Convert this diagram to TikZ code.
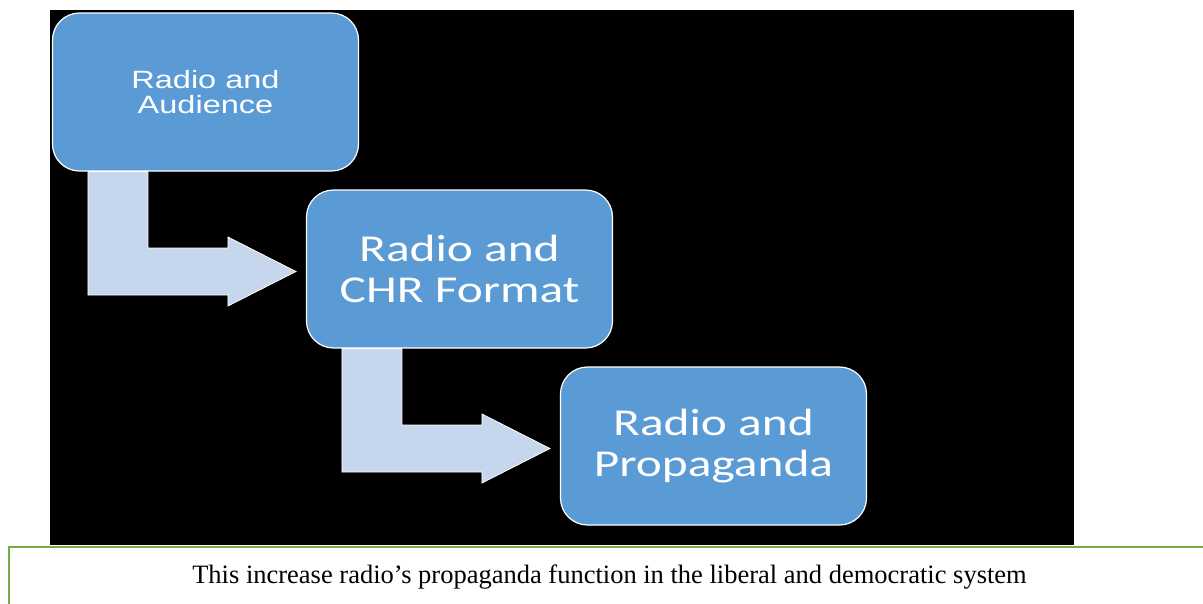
\documentclass[tikz,border=0pt]{standalone}
\usepackage{fontspec}
\setmainfont{Liberation Serif}
\newfontfamily\arialfont{Liberation Sans}
\newfontfamily\calfont{Carlito}
\usepackage{graphicx}
\usepackage{tikz}
\usetikzlibrary{calc}
\usepackage{color}
\definecolor{boxblue}{RGB}{91,155,213}
\definecolor{flowblue}{RGB}{198,214,236}
\definecolor{notegreen}{RGB}{112,173,71}
\newcommand{\wide}[1]{\scalebox{1.3}[1]{#1}}

\begin{document}
\begin{tikzpicture}[x=1pt,y=-1pt,
    stage/.style={draw=white,line width=1.2pt,fill=boxblue,rounded corners=27pt,
        minimum width=306pt,minimum height=158pt,inner sep=0pt,align=center,text=white},
    flow/.style={draw=white,line width=0.8pt,fill=flowblue},
    notebox/.style={draw=notegreen,line width=2pt}]
        \useasboundingbox (0,0) rectangle (1203,603);
        \fill[black] (50,10) rectangle (1074,545);
        \node[stage,font=\arialfont\fontsize{25}{25}\selectfont] (aud) at (205.5,92)
            {\wide{Radio and}\\\wide{Audience}};
        \node[stage,font=\calfont\fontsize{38}{41}\selectfont] (chr) at (459.5,269)
            {\wide{Radio and}\\\wide{CHR Format}};
        \node[stage,font=\calfont\fontsize{38}{41}\selectfont] (prop) at (713.5,446)
            {\wide{Radio and}\\\wide{Propaganda}};
        \foreach \a/\b in {aud/chr,chr/prop}
            \draw[flow] let \p1=(\a.south west), \p2=(\b.west) in
                (\x1+36pt,\y1) -- (\x1+36pt,\y2-26pt) -- (\x2-78pt,\y2-26pt)
                -- (\x2-78pt,\y2-37pt) -- (\x2-10pt,\y2-2.5pt) -- (\x2-78pt,\y2+32pt)
                -- (\x2-78pt,\y2+21pt) -- (\x1+96pt,\y2+21pt) -- (\x1+96pt,\y1) -- cycle;
        \draw[notebox] (9,547) rectangle (1215,640);
        \node[anchor=base,font=\fontsize{26.5}{30}\selectfont,inner sep=0pt] (note) at (609.5,583)
            {This increase radio’s propaganda function in the liberal and democratic system};
    \end{tikzpicture}
\end{document}
